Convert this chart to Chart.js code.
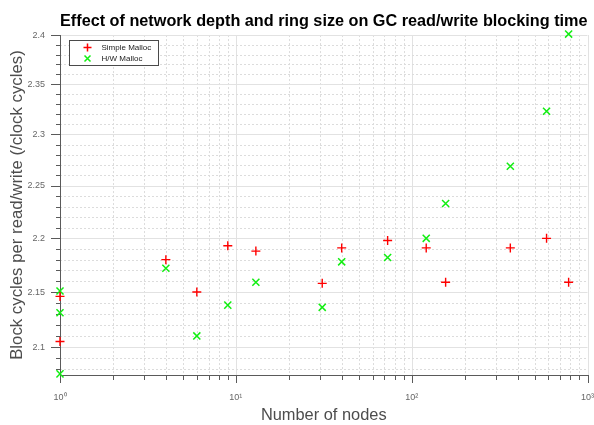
<!DOCTYPE html>
<html><head><meta charset="utf-8">
<script src="https://cdn.jsdelivr.net/npm/chart.js@4/dist/chart.umd.min.js"></script>
<style>html,body{margin:0;padding:0;background:#fff}</style>
</head><body>
<canvas id="c" width="594" height="425"></canvas>
<script>
const titleText = 'Effect of network depth and ring size on GC read/write blocking time';
const xAxisLabel = 'Number of nodes';
const yAxisLabel = 'Block cycles per read/write (/clock cycles)';
const seriesNames = ['Simple Malloc', 'H/W Malloc'];

const simpleNodes  = [1, 1, 4, 6, 9, 13, 31, 40, 73, 121, 156, 364, 585, 781];
const simpleCycles = [2.146, 2.105, 2.180, 2.150, 2.193, 2.188, 2.158, 2.191, 2.198, 2.191, 2.159, 2.191, 2.200, 2.159];

const hwNodes  = [1, 1, 1, 4, 6, 9, 13, 31, 40, 73, 121, 156, 364, 585, 781];
const hwCycles = [2.151, 2.131, 2.076, 2.172, 2.110, 2.138, 2.159, 2.136, 2.178, 2.182, 2.200, 2.233, 2.269, 2.323, 2.401];

const xTickValues = [1,2,3,4,5,6,7,8,9,10,20,30,40,50,60,70,80,90,100,200,300,400,500,600,700,800,900,1000];
const xMajorValues = [1, 10, 100, 1000];
const xMajorLabels = ['10\u2070', '10\u00B9', '10\u00B2', '10\u00B3'];

const yTickValues = [2.08,2.09,2.10,2.11,2.12,2.13,2.14,2.15,2.16,2.17,2.18,2.19,2.20,2.21,2.22,2.23,2.24,2.25,2.26,2.27,2.28,2.29,2.30,2.31,2.32,2.33,2.34,2.35,2.36,2.37,2.38,2.39,2.40];
const yMajorValues = [2.1, 2.15, 2.2, 2.25, 2.3, 2.35, 2.4];
const yMajorLabels = ['2.1', '2.15', '2.2', '2.25', '2.3', '2.35', '2.4'];

const yMin = 2.075, yMax = 2.4, xMin = 1, xMax = 1000;

function findMajor(list, v) { return list.findIndex(m => Math.abs(m - v) < 1e-9); }

Chart.defaults.font.family = '"Liberation Sans", Arial, Helvetica, sans-serif';

const gridPlugin = {
  id: 'customGrid',
  beforeDraw(chart) {
    const {ctx, chartArea: a, scales: {x, y}} = chart;
    ctx.save();
    ctx.fillStyle = '#fff';
    ctx.fillRect(0, 0, chart.width, chart.height);
    ctx.lineWidth = 1;
    x.ticks.forEach(t => {
      const px = Math.round(x.getPixelForValue(t.value)) + 0.5;
      if (px <= a.left + 1) return;
      ctx.beginPath();
      if (t.major) { ctx.setLineDash([]); ctx.strokeStyle = '#e2e2e2'; }
      else { ctx.setLineDash([2, 2]); ctx.strokeStyle = '#dcdcdc'; }
      ctx.moveTo(px, a.top); ctx.lineTo(px, a.bottom); ctx.stroke();
    });
    y.ticks.forEach(t => {
      const py = Math.round(y.getPixelForValue(t.value)) + 0.5;
      ctx.beginPath();
      if (t.major) { ctx.setLineDash([]); ctx.strokeStyle = '#e2e2e2'; }
      else { ctx.setLineDash([2, 2]); ctx.strokeStyle = '#dcdcdc'; }
      ctx.moveTo(a.left, py); ctx.lineTo(a.right, py); ctx.stroke();
    });
    ctx.setLineDash([]);
    ctx.strokeStyle = '#5a5a5a';
    x.ticks.forEach(t => {
      const px = Math.round(x.getPixelForValue(t.value)) + 0.5;
      const len = t.major ? 8 : 5;
      ctx.beginPath(); ctx.moveTo(px, a.bottom); ctx.lineTo(px, a.bottom + len); ctx.stroke();
    });
    y.ticks.forEach(t => {
      const py = Math.round(y.getPixelForValue(t.value)) + 0.5;
      const len = t.major ? 9 : 4;
      ctx.beginPath(); ctx.moveTo(a.left - len, py); ctx.lineTo(a.left, py); ctx.stroke();
    });
    ctx.restore();
  }
};

const legendPlugin = {
  id: 'boxLegend',
  afterDatasetsDraw(chart) {
    const ctx = chart.ctx, a = chart.chartArea;
    const bx = Math.round(a.left + 9) + 0.5, by = Math.round(a.top + 5) + 0.5, bw = 89, bh = 25;
    ctx.save();
    ctx.fillStyle = '#fff';
    ctx.fillRect(bx, by, bw, bh);
    ctx.strokeStyle = '#4a4a4a'; ctx.lineWidth = 1;
    ctx.strokeRect(bx, by, bw, bh);
    chart.data.datasets.forEach((ds, i) => {
      const cx = bx + 18, cy = by + 7 + i * 11;
      ctx.strokeStyle = ds.borderColor; ctx.lineWidth = 1.5;
      ctx.beginPath();
      if (ds.pointStyle === 'cross') {
        ctx.moveTo(cx - 4, cy); ctx.lineTo(cx + 4, cy);
        ctx.moveTo(cx, cy - 4); ctx.lineTo(cx, cy + 4);
      } else {
        ctx.moveTo(cx - 3, cy - 3); ctx.lineTo(cx + 3, cy + 3);
        ctx.moveTo(cx - 3, cy + 3); ctx.lineTo(cx + 3, cy - 3);
      }
      ctx.stroke();
      ctx.fillStyle = '#222';
      ctx.font = '8px "Liberation Sans", Arial, sans-serif';
      ctx.textBaseline = 'middle'; ctx.textAlign = 'left';
      ctx.fillText(ds.label, bx + 32, cy);
    });
    ctx.restore();
  }
};

new Chart(document.getElementById('c'), {
  type: 'scatter',
  data: {
    datasets: [
      {
        label: seriesNames[0],
        data: simpleNodes.map((n, i) => ({x: n, y: simpleCycles[i]})),
        pointStyle: 'cross', pointRadius: 4.5, borderWidth: 1.4,
        borderColor: '#ff0000', backgroundColor: '#ff0000', clip: false
      },
      {
        label: seriesNames[1],
        data: hwNodes.map((n, i) => ({x: n, y: hwCycles[i]})),
        pointStyle: 'crossRot', pointRadius: 5, borderWidth: 1.5,
        borderColor: '#11ee11', backgroundColor: '#11ee11', clip: false
      }
    ]
  },
  options: {
    responsive: false,
    animation: false,
    devicePixelRatio: 1,
    layout: {padding: {left: 0, right: 6, top: 0, bottom: 0}},
    plugins: {
      legend: {display: false},
      tooltip: {enabled: false},
      title: {
        display: true, text: titleText, fullSize: false,
        color: '#000',
        font: {size: 16.3, weight: 'bold', lineHeight: 1.2},
        padding: {top: 11.3, bottom: 4.2}
      }
    },
    scales: {
      x: {
        type: 'logarithmic', position: 'bottom', min: xMin, max: xMax,
        afterBuildTicks(s) { s.ticks = xTickValues.map(v => ({value: v, major: findMajor(xMajorValues, v) >= 0})); },
        afterFit(s) { s.height = 50; s.paddingLeft = 0; s.paddingRight = 0; },
        grid: {display: false, drawTicks: false, drawOnChartArea: false},
        border: {display: true, color: '#5a5a5a', width: 1},
        ticks: {
          autoSkip: false, maxRotation: 0, minRotation: 0, padding: 17,
          color: '#666', font: {size: 9},
          callback(v) { const k = findMajor(xMajorValues, v); return k >= 0 ? xMajorLabels[k] : ''; }
        },
        title: {display: true, text: xAxisLabel, color: '#4d4d4d', font: {size: 16.4}, padding: {top: 0, bottom: 0}}
      },
      y: {
        type: 'logarithmic', position: 'left', min: yMin, max: yMax,
        afterBuildTicks(s) { s.ticks = yTickValues.map(v => ({value: v, major: findMajor(yMajorValues, v) >= 0})); },
        afterFit(s) { s.width = 60; s.paddingTop = 0; s.paddingBottom = 0; },
        grid: {display: false, drawTicks: false, drawOnChartArea: false},
        border: {display: true, color: '#5a5a5a', width: 1},
        ticks: {
          autoSkip: false, padding: 15, color: '#666', font: {size: 9},
          callback(v) { const k = findMajor(yMajorValues, v); return k >= 0 ? yMajorLabels[k] : ''; }
        },
        title: {display: true, text: yAxisLabel, color: '#4d4d4d', font: {size: 16.8}, padding: {top: 7, bottom: 0}}
      }
    }
  },
  plugins: [gridPlugin, legendPlugin]
});
</script>
</body></html>
